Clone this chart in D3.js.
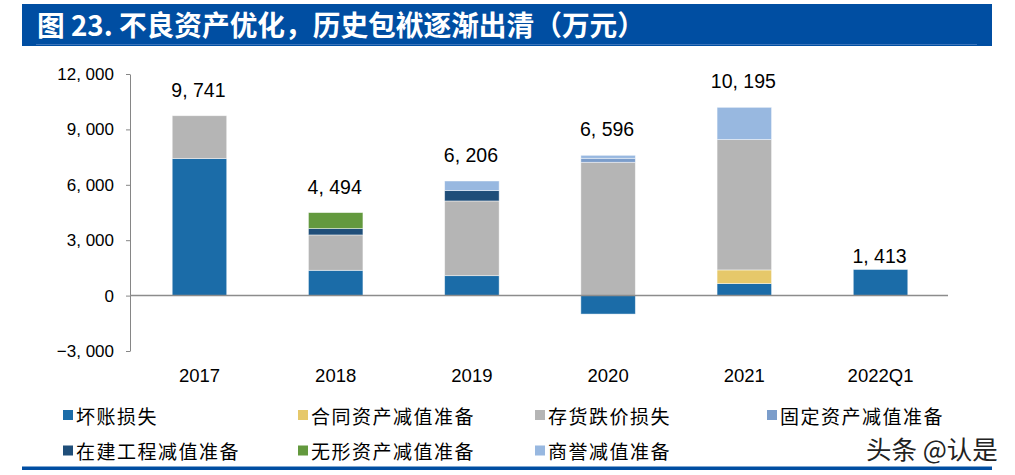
<!DOCTYPE html>
<html>
<head>
<meta charset="utf-8">
<script src="https://cdn.jsdelivr.net/npm/d3@7"></script>
<style>
  html, body { margin: 0; padding: 0; background: #fff; }
  svg { display: block; }
</style>
</head>
<body>
<svg id="chart" width="1015" height="475"></svg>
<script>
// ---- data ----
const categories = ["2017", "2018", "2019", "2020", "2021", "2022Q1"];
const seriesNames = ["坏账损失", "合同资产减值准备", "存货跌价损失", "固定资产减值准备", "在建工程减值准备", "无形资产减值准备", "商誉减值准备"];
const badDebt      = [7420, 1370, 1080, -1000, 650, 1413];
const contract     = [0, 0, 0, 0, 740, 0];
const inventory    = [2321, 1915, 4045, 7220, 7060, 0];
const fixedAsset   = [0, 0, 0, 215, 0, 0];
const construction = [0, 345, 560, 0, 0, 0];
const intangible   = [0, 864, 0, 0, 0, 0];
const goodwill     = [0, 0, 521, 161, 1745, 0];
const totals       = [9741, 4494, 6206, 6596, 10195, 1413];
const yTicks       = [-3000, 0, 3000, 6000, 9000, 12000];
const titleText    = "图 23. 不良资产优化，历史包袱逐渐出清（万元）";
const watermark    = "头条 @认是";

// ---- styles ----
const colors = ["#1B6CA8", "#E6C86A", "#B5B5B5", "#7B9DCB", "#1F4E79", "#63993E", "#98B8E0"];
const labelLift = [19, 19, 19, 19, 19, 7];

const svg = d3.select("#chart");
const blue = "#004EA2";

// title banner
svg.append("rect").attr("x", 22).attr("y", 4).attr("width", 970).attr("height", 42).attr("fill", blue);
svg.append("line").attr("x1", 36).attr("x2", 977).attr("y1", 44.5).attr("y2", 44.5)
  .attr("stroke", "#3C75BB").attr("stroke-width", 1);
svg.append("text").attr("x", 37).attr("y", 35.5)
  .attr("fill", "#fff").attr("font-family", "'Noto Sans CJK SC', sans-serif")
  .attr("font-weight", "bold").attr("font-size", 28)
  .attr("textLength", 608).attr("lengthAdjust", "spacingAndGlyphs")
  .text(titleText);

// bottom rule
svg.append("rect").attr("x", 22).attr("y", 466.5).attr("width", 970).attr("height", 3.5).attr("fill", blue);

// scales
const x = d3.scaleBand().domain(categories).range([130, 950]).paddingInner(0.6).paddingOuter(0.31);
const y = d3.scaleLinear().domain([-3000, 12000]).range([351, 74]);

const fmt = v => d3.format(",")(v).replace(/,/g, ", ");

// axis
const yAxis = d3.axisLeft(y).tickValues(yTicks).tickSize(4).tickSizeOuter(0).tickPadding(12).tickFormat(fmt);
const ag = svg.append("g").attr("transform", "translate(130,0)").call(yAxis);
ag.select(".domain").attr("stroke", "#868686");
ag.selectAll(".tick line").attr("stroke", "#868686");
ag.selectAll(".tick text").attr("font-family", "'Liberation Sans', Arial, sans-serif")
  .attr("font-size", 17).attr("fill", "#000");

// stacked data
const seriesArrays = [badDebt, contract, inventory, fixedAsset, construction, intangible, goodwill];
const rows = categories.map((c, i) => {
  const o = { cat: c };
  seriesNames.forEach((s, k) => o[s] = seriesArrays[k][i]);
  return o;
});
const stack = d3.stack().keys(seriesNames).offset(d3.stackOffsetDiverging);
const stacked = stack(rows);

const gBars = svg.append("g");
stacked.forEach((layer, k) => {
  gBars.selectAll(null).data(layer.filter(d => d[1] !== d[0])).enter().append("rect")
    .attr("x", d => x(d.data.cat))
    .attr("width", x.bandwidth())
    .attr("y", d => y(Math.max(d[0], d[1])))
    .attr("height", d => Math.abs(y(d[0]) - y(d[1])))
    .attr("fill", colors[k])
    .attr("stroke", "rgba(255,255,255,0.55)")
    .attr("stroke-width", 0.8);
});

// zero line
svg.append("line").attr("x1", 130).attr("x2", 948).attr("y1", y(0)).attr("y2", y(0))
  .attr("stroke", "#8C8C8C").attr("stroke-width", 1.5);

// value labels
categories.forEach((c, i) => {
  const top = d3.max(stacked, l => l[i][1]);
  svg.append("text")
    .attr("x", x(c) + x.bandwidth() / 2 - 1)
    .attr("y", y(top) - labelLift[i])
    .attr("text-anchor", "middle")
    .attr("font-family", "'Liberation Sans', Arial, sans-serif")
    .attr("font-size", 19.5).attr("fill", "#000")
    .text(fmt(totals[i]));
});

// x labels
categories.forEach(c => {
  svg.append("text")
    .attr("x", x(c) + x.bandwidth() / 2)
    .attr("y", 382)
    .attr("text-anchor", "middle")
    .attr("font-family", "'Liberation Sans', Arial, sans-serif")
    .attr("font-size", 18.5).attr("fill", "#000")
    .text(c);
});

// legend
const legendX = [63, 298, 535, 767];
const legendY = [415, 450.5];
seriesNames.forEach((s, k) => {
  const lx = legendX[k % 4], ly = legendY[Math.floor(k / 4)];
  svg.append("rect").attr("x", lx).attr("y", ly - 5).attr("width", 10).attr("height", 10).attr("fill", colors[k]);
  svg.append("text").attr("x", lx + 13).attr("y", ly)
    .attr("dominant-baseline", "central")
    .attr("font-family", "'Noto Sans CJK SC', sans-serif")
    .attr("font-size", 19).attr("letter-spacing", 1.5).attr("fill", "#000")
    .text(s);
});

// watermark
svg.append("text").attr("x", 866).attr("y", 459)
  .attr("font-family", "'Noto Sans CJK SC', sans-serif")
  .attr("font-size", 25.5).attr("fill", "#222")
  .text(watermark);
</script>
</body>
</html>
